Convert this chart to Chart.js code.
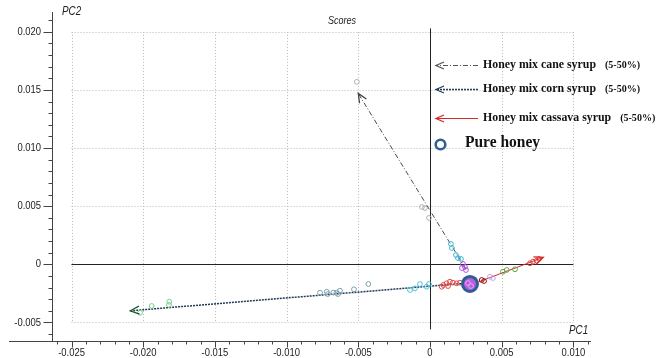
<!DOCTYPE html>
<html>
<head>
<meta charset="utf-8">
<script src="https://cdn.jsdelivr.net/npm/chart.js@4"></script>
<style>
html, body { margin: 0; padding: 0; background: #fff; }
#wrap { width: 662px; height: 358px; }
</style>
</head>
<body>
<div id="wrap"><canvas id="chart"></canvas></div>
<script>
// Axis ranges and labelled ticks
const xMin = -0.02636, xMax = 0.01123;
const yMin = -0.0066, yMax = 0.02171;
const xTickValues = [-0.025, -0.020, -0.015, -0.010, -0.005, 0, 0.005, 0.010];
const yTickValues = [-0.005, 0, 0.005, 0.010, 0.015, 0.020];

// Trend arrows (start -> arrow tip)
const caneLineX = [0.0025, -0.0050];
const caneLineY = [-0.0004, 0.0147];
const cornLineX = [0.0028, -0.0209];
const cornLineY = [-0.0016, -0.0040];
const cassavaLineX = [0.0030, 0.0079];
const cassavaLineY = [-0.0017, 0.0006];

// Score points
const caneGrayX = [-0.00056, -0.00035, -0.00007, -0.0051];
const caneGrayY = [0.00493, 0.00484, 0.00399, 0.0157];
const caneCyanX = [0.00146, 0.00153, 0.00181, 0.00195, 0.00216];
const caneCyanY = [0.00175, 0.00140, 0.00080, 0.00054, 0.00046];
const canePurpleX = [0.00230, 0.00244, 0.00251, 0.00223];
const canePurpleY = [0.00003, -0.00023, -0.00049, -0.00032];

const cornGreenX = [-0.02022, -0.01941, -0.01818, -0.01820];
const cornGreenY = [-0.00417, -0.00359, -0.00322, -0.00350];
const cornGrayX = [-0.00767, -0.00720, -0.00713, -0.00674, -0.00651, -0.00642, -0.00628, -0.00530, -0.00430];
const cornGrayY = [-0.00244, -0.00236, -0.00256, -0.00244, -0.00244, -0.00256, -0.00227, -0.00215, -0.00170];
const cornCyanX = [-0.00139, -0.00105, -0.00070, -0.00023, -0.00007];
const cornCyanY = [-0.00221, -0.00207, -0.00170, -0.00193, -0.00170];

const cassavaRedX = [0.00082, 0.00093, 0.00116, 0.00139, 0.00160, 0.00186, 0.00209, 0.00126];
const cassavaRedY = [-0.00193, -0.00178, -0.00164, -0.00150, -0.00158, -0.00164, -0.00158, -0.00187];
const cassavaDarkX = [0.00361, 0.00377];
const cassavaDarkY = [-0.00135, -0.00144];
const cassavaLavX = [0.00418, 0.00439];
const cassavaLavY = [-0.00107, -0.00118];
const cassavaGreenX = [0.00509, 0.00535, 0.00593];
const cassavaGreenY = [-0.00064, -0.00049, -0.00043];
const cassavaTopX = [0.00697, 0.00718, 0.00744, 0.00760];
const cassavaTopY = [0.00009, 0.00022, 0.00031, 0.00046];

const pureHoneyX = [0.00279];
const pureHoneyY = [-0.00169];
const honeyInnerX = [0.00265, 0.00286];
const honeyInnerY = [-0.00161, -0.00187];

// Legend texts
const legendLabels = ['Honey mix cane syrup', 'Honey mix corn syrup', 'Honey mix cassava syrup'];
const legendRange = '(5-50%)';
const pureLabel = 'Pure honey';

const sansFont = "'Liberation Sans', Arial, sans-serif";
const serifFont = "'Liberation Serif', 'Times New Roman', serif";
const narrowScale = 0.82;

function pts(xs, ys) {
    return xs.map((x, i) => ({ x: x, y: ys[i] }));
}

function lineSet(xs, ys, color, dash, width, headColor) {
    return {
        data: pts(xs, ys),
        showLine: true,
        borderColor: color,
        borderDash: dash,
        borderWidth: width,
        pointRadius: 0,
        arrowHead: headColor,
        order: 10
    };
}

function pointSet(xs, ys, color) {
    return {
        data: pts(xs, ys),
        showLine: false,
        pointStyle: 'circle',
        pointRadius: 2.4,
        pointBorderWidth: 1,
        pointBorderColor: color,
        pointBackgroundColor: 'rgba(255,255,255,0)',
        order: 5
    };
}

function drawHead(ctx, x1, y1, x2, y2, color, len, half) {
    const ang = Math.atan2(y2 - y1, x2 - x1);
    ctx.save();
    ctx.strokeStyle = color;
    ctx.lineWidth = 1.3;
    ctx.setLineDash([]);
    ctx.beginPath();
    ctx.moveTo(x2 - len * Math.cos(ang) + half * Math.sin(ang), y2 - len * Math.sin(ang) - half * Math.cos(ang));
    ctx.lineTo(x2, y2);
    ctx.lineTo(x2 - len * Math.cos(ang) - half * Math.sin(ang), y2 - len * Math.sin(ang) + half * Math.cos(ang));
    ctx.stroke();
    ctx.restore();
}

// Text squeezed horizontally (the original uses a narrow face)
function narrowText(ctx, text, x, y, font, sx, align) {
    ctx.save();
    ctx.font = font;
    ctx.textAlign = 'left';
    const w = ctx.measureText(text).width * sx;
    let left = x;
    if (align === 'right') left = x - w;
    if (align === 'center') left = x - w / 2;
    ctx.translate(left, y);
    ctx.scale(sx, 1);
    ctx.fillText(text, 0, 0);
    ctx.restore();
}

function tickLabel(v) {
    if (Math.abs(v) < 1e-9) return '0';
    return v.toFixed(3);
}

// Grid box, zero lines and tick marks
const backdropPlugin = {
    id: 'backdrop',
    beforeDatasetsDraw(chart) {
        const ctx = chart.ctx;
        const xs = chart.scales.x, ys = chart.scales.y;
        const gx0 = xs.getPixelForValue(xTickValues[0]);
        const gx1 = xs.getPixelForValue(xTickValues[xTickValues.length - 1]);
        const gy0 = ys.getPixelForValue(yTickValues[0]);
        const gy1 = ys.getPixelForValue(yTickValues[yTickValues.length - 1]);
        ctx.save();
        ctx.strokeStyle = '#b8b8b8';
        ctx.lineWidth = 1;
        ctx.setLineDash([1, 2]);
        xTickValues.forEach(v => {
            const px = Math.round(xs.getPixelForValue(v)) + 0.5;
            ctx.beginPath();
            ctx.moveTo(px, gy1);
            ctx.lineTo(px, gy0);
            ctx.stroke();
        });
        yTickValues.forEach(v => {
            const py = Math.round(ys.getPixelForValue(v)) + 0.5;
            ctx.beginPath();
            ctx.moveTo(gx0, py);
            ctx.lineTo(gx1, py);
            ctx.stroke();
        });
        ctx.setLineDash([]);
        // zero lines
        ctx.strokeStyle = '#222';
        const zx = Math.round(xs.getPixelForValue(0)) + 0.5;
        const zy = Math.round(ys.getPixelForValue(0)) + 0.5;
        ctx.beginPath();
        ctx.moveTo(gx0, zy);
        ctx.lineTo(gx1, zy);
        ctx.moveTo(zx, ys.getPixelForValue(0.0203));
        ctx.lineTo(zx, ys.getPixelForValue(-0.0056));
        ctx.stroke();
        ctx.restore();
    },
    afterDraw(chart) {
        const ctx = chart.ctx;
        const area = chart.chartArea;
        const xs = chart.scales.x, ys = chart.scales.y;
        ctx.save();
        ctx.strokeStyle = '#444';
        ctx.lineWidth = 1;
        // x axis line reaches past the y axis
        const by = Math.round(area.bottom) + 0.5;
        ctx.beginPath();
        ctx.moveTo(9, by);
        ctx.lineTo(area.right, by);
        ctx.stroke();
        // x ticks
        for (let i = -26; i <= 11; i++) {
            const v = i / 1000;
            const px = Math.round(xs.getPixelForValue(v)) + 0.5;
            const len = (i % 5 === 0) ? 6 : 3;
            ctx.beginPath();
            ctx.moveTo(px, by);
            ctx.lineTo(px, by + len);
            ctx.stroke();
        }
        // y ticks
        const ax = Math.round(area.left) + 0.5;
        for (let i = -6; i <= 21; i++) {
            const v = i / 1000;
            const py = Math.round(ys.getPixelForValue(v)) + 0.5;
            const len = (i % 5 === 0) ? 9 : 4;
            ctx.beginPath();
            ctx.moveTo(ax - len, py);
            ctx.lineTo(ax, py);
            ctx.stroke();
        }
        // tick labels from the scales' own ticks
        ctx.fillStyle = '#222';
        ctx.textBaseline = 'middle';
        const tickFont = '11.5px ' + sansFont;
        xs.ticks.forEach(t => {
            narrowText(ctx, tickLabel(t.value), xs.getPixelForValue(t.value), 353, tickFont, narrowScale, 'center');
        });
        ys.ticks.forEach(t => {
            narrowText(ctx, tickLabel(t.value), 41, ys.getPixelForValue(t.value), tickFont, narrowScale, 'right');
        });
        ctx.restore();
    }
};

// Arrow heads, legend and axis captions
const overlayPlugin = {
    id: 'overlay',
    afterDatasetsDraw(chart) {
        const ctx = chart.ctx;
        chart.data.datasets.forEach((ds, i) => {
            if (!ds.arrowHead) return;
            const els = chart.getDatasetMeta(i).data;
            const a = els[els.length - 2], b = els[els.length - 1];
            drawHead(ctx, a.x, a.y, b.x, b.y, ds.arrowHead, 9, 4);
        });

        // legend
        const lx0 = 436, lx1 = 478;
        const rows = [65, 89, 118];
        const styles = [
            { color: '#555', dash: [5, 2, 1, 2], width: 1 },
            { color: '#23415e', dash: [2, 1], width: 1.3 },
            { color: '#d42a2a', dash: [], width: 1 }
        ];
        ctx.save();
        rows.forEach((y, i) => {
            ctx.strokeStyle = styles[i].color;
            ctx.lineWidth = styles[i].width;
            ctx.setLineDash(styles[i].dash);
            ctx.beginPath();
            ctx.moveTo(lx1, y + 0.5);
            ctx.lineTo(lx0, y + 0.5);
            ctx.stroke();
            drawHead(ctx, lx1, y + 0.5, lx0, y + 0.5, styles[i].color, 8, 3.5);
        });
        ctx.setLineDash([]);
        ctx.fillStyle = '#111';
        ctx.textBaseline = 'middle';
        const mainFont = '700 13px ' + serifFont;
        const rangeFont = '700 11px ' + serifFont;
        ctx.font = mainFont;
        const sx = 113 / ctx.measureText(legendLabels[0]).width;
        rows.forEach((y, i) => {
            ctx.font = mainFont;
            const w = ctx.measureText(legendLabels[i]).width * sx;
            narrowText(ctx, legendLabels[i], 483, y, mainFont, sx, 'left');
            narrowText(ctx, legendRange, 483 + w + 9, y, rangeFont, sx, 'left');
        });
        // pure honey marker
        ctx.strokeStyle = '#2f6191';
        ctx.lineWidth = 2.6;
        ctx.beginPath();
        ctx.arc(440.5, 144.5, 4.8, 0, Math.PI * 2);
        ctx.stroke();
        const pureFont = '700 16px ' + serifFont;
        ctx.font = pureFont;
        const psx = 75 / ctx.measureText(pureLabel).width;
        narrowText(ctx, pureLabel, 465, 143, pureFont, psx, 'left');

        // captions
        ctx.fillStyle = '#222';
        const capFont = 'italic 12px ' + sansFont;
        narrowText(ctx, 'PC2', 62, 12, capFont, narrowScale, 'left');
        narrowText(ctx, 'PC1', 569, 331, capFont, narrowScale, 'left');
        narrowText(ctx, 'Scores', 342, 21, 'italic 11px ' + sansFont, narrowScale, 'center');
        ctx.restore();
    }
};

new Chart(document.getElementById('chart'), {
    type: 'scatter',
    data: {
        datasets: [
            lineSet(caneLineX, caneLineY, '#4a4a4a', [5, 2, 1, 2], 1, '#444'),
            lineSet(cornLineX, cornLineY, '#1f3a55', [2, 1], 1.5, '#1d5a2c'),
            lineSet(cassavaLineX, cassavaLineY, '#d42a2a', [], 1, '#d42a2a'),
            pointSet(caneGrayX, caneGrayY, '#b0b0b0'),
            pointSet(caneCyanX, caneCyanY, '#3fb6d2'),
            pointSet(canePurpleX, canePurpleY, '#b050e0'),
            pointSet(cornGreenX, cornGreenY, '#72d08a'),
            pointSet(cornGrayX, cornGrayY, '#7f9fae'),
            pointSet(cornCyanX, cornCyanY, '#4ec0db'),
            pointSet(cassavaRedX, cassavaRedY, '#e04848'),
            pointSet(cassavaDarkX, cassavaDarkY, '#9a1010'),
            pointSet(cassavaLavX, cassavaLavY, '#c8a2e6'),
            pointSet(cassavaGreenX, cassavaGreenY, '#5aa847'),
            pointSet(cassavaTopX, cassavaTopY, '#e04040'),
            {
                data: pts(pureHoneyX, pureHoneyY),
                pointStyle: 'circle',
                pointRadius: 7.5,
                pointBorderWidth: 3,
                pointBorderColor: '#2d5e95',
                pointBackgroundColor: '#b760db',
                order: 2
            },
            Object.assign(pointSet(honeyInnerX, honeyInnerY, '#e8a0f5'), { order: 1 })
        ]
    },
    options: {
        responsive: true,
        maintainAspectRatio: false,
        animation: false,
        devicePixelRatio: 1,
        layout: { padding: { top: 12, right: 71, left: 0, bottom: 0 } },
        plugins: {
            legend: { display: false },
            tooltip: { enabled: false },
            title: { display: false }
        },
        scales: {
            x: {
                type: 'linear',
                min: xMin,
                max: xMax,
                afterFit: s => { s.height = 17; },
                border: { display: false },
                grid: { display: false, drawTicks: false },
                ticks: {
                    display: false,
                    stepSize: 0.005,
                    includeBounds: false,
                    autoSkip: false
                }
            },
            y: {
                type: 'linear',
                min: yMin,
                max: yMax,
                afterFit: s => { s.width = 52; },
                border: { display: true, color: '#444', width: 1 },
                grid: { display: false, drawTicks: false },
                ticks: {
                    display: false,
                    stepSize: 0.005,
                    includeBounds: false,
                    autoSkip: false
                }
            }
        }
    },
    plugins: [backdropPlugin, overlayPlugin]
});
</script>
</body>
</html>
